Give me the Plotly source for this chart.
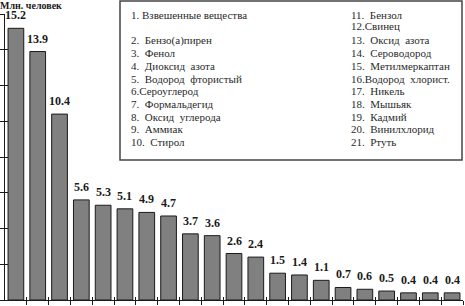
import plotly.graph_objects as go

values = [15.2, 13.9, 10.4, 5.6, 5.3, 5.1, 4.9, 4.7, 3.7, 3.6, 2.6, 2.4,
          1.5, 1.4, 1.1, 0.7, 0.6, 0.5, 0.4, 0.4, 0.4]
value_labels = ["15.2", "13.9", "10.4", "5.6", "5.3", "5.1", "4.9", "4.7", "3.7", "3.6",
                "2.6", "2.4", "1.5", "1.4", "1.1", "0.7", "0.6", "0.5", "0.4", "0.4", "0.4"]
legend_col1 = ["1. Взвешенные вещества", "2.  Бензо(а)пирен", "3.  Фенол", "4.  Диоксид  азота",
               "5.  Водород  фтористый", "6.Сероуглерод", "7.  Формальдегид",
               "8.  Оксид  углерода", "9.  Аммиак", "10.  Стирол"]
legend_col2 = ["11.  Бензол", "12.Свинец", "13.  Оксид  азота", "14.  Сероводород",
               "15.  Метилмеркаптан", "16.Водород  хлорист.", "17.  Никель", "18.  Мышьяк",
               "19.  Кадмий", "20.  Винилхлорид", "21.  Ртуть"]
y_title = "Млн. человек"

SERIF = "Liberation Serif, Times New Roman, DejaVu Serif, serif"

W, H = 465, 306
ML, MR, MT, MB = 5, 2, 14, 6
pw, ph = W - ML - MR, H - MT - MB

def px_x(p):
    return (p - ML) / pw

def px_y(p):
    return (H - MB - p) / ph

x = list(range(len(values)))
boundaries = [i + 0.5 for i in x]

fig = go.Figure()
fig.add_trace(go.Bar(x=x, y=values, width=0.72,
                     marker=dict(color="#808080", line=dict(color="#1a1a1a", width=1)),
                     hoverinfo="skip"))
fig.add_trace(go.Scatter(x=[0], y=[0], xaxis="x2", yaxis="y2", mode="markers",
                         marker=dict(opacity=0), hoverinfo="skip", showlegend=False))

annotations = []
for xi, v, t in zip(x, values, value_labels):
    annotations.append(dict(x=xi, y=v, text="<b>%s</b>" % t, showarrow=False,
                            yanchor="middle", yshift=13,
                            font=dict(family=SERIF, size=12, color="#1a1a1a")))

font_leg = dict(family=SERIF, size=11, color="#2a2a2a")
rows1 = [0] + list(range(2, 11))
rows2 = [0, 0.9] + list(range(2, 11))
for r, t in zip(rows1, legend_col1):
    annotations.append(dict(xref="paper", yref="paper", x=px_x(129), y=px_y(15 + 12.7 * r),
                            text=t, showarrow=False, xanchor="left", yanchor="middle", font=font_leg))
for r, t in zip(rows2, legend_col2):
    annotations.append(dict(xref="paper", yref="paper", x=px_x(349), y=px_y(15 + 12.7 * r),
                            text=t, showarrow=False, xanchor="left", yanchor="middle", font=font_leg))
annotations.append(dict(xref="paper", yref="paper", x=px_x(-2), y=px_y(5), text="<b>%s</b>" % y_title,
                        showarrow=False, xanchor="left", yanchor="middle",
                        font=dict(family=SERIF, size=10, color="#1a1a1a")))

fig.update_layout(
    width=W, height=H, margin=dict(l=ML, r=MR, t=MT, b=MB, autoexpand=False),
    paper_bgcolor="white", plot_bgcolor="white", showlegend=False,
    font=dict(family=SERIF),
    annotations=annotations,
    shapes=[dict(type="rect", xref="paper", yref="paper",
                 x0=px_x(120), x1=px_x(462), y0=px_y(160), y1=px_y(1),
                 line=dict(color="#444444", width=1.5), fillcolor="rgba(0,0,0,0)")],
    xaxis=dict(range=[-0.5, 20.5], showgrid=False, zeroline=False, showline=True, automargin=False,
               linecolor="#1a1a1a", linewidth=1, ticks="outside", ticklen=4, tickwidth=1,
               tickcolor="#1a1a1a", tickvals=boundaries, showticklabels=False),
    xaxis2=dict(range=[-0.5, 20.5], overlaying="x", showgrid=False, zeroline=False, automargin=False,
                showline=False, ticks="inside", ticklen=3, tickwidth=1, tickcolor="#1a1a1a",
                tickvals=boundaries, showticklabels=False, anchor="y2"),
    yaxis=dict(range=[0, 16], showgrid=False, zeroline=False, showline=True, automargin=False,
               linecolor="#1a1a1a", linewidth=1, ticks="outside", ticklen=5, tickwidth=1,
               tickcolor="#1a1a1a", tickvals=list(range(0, 17, 2)), showticklabels=False),
    yaxis2=dict(range=[0, 16], overlaying="y", showgrid=False, zeroline=False, automargin=False,
                showline=False, ticks="inside", ticklen=3, tickwidth=1, tickcolor="#1a1a1a",
                tickvals=list(range(0, 17, 2)), showticklabels=False, anchor="x2"),
)

fig.write_html("out.html", config={"displayModeBar": False},
               post_script="document.body.style.margin='0';document.body.style.overflow='hidden';")
